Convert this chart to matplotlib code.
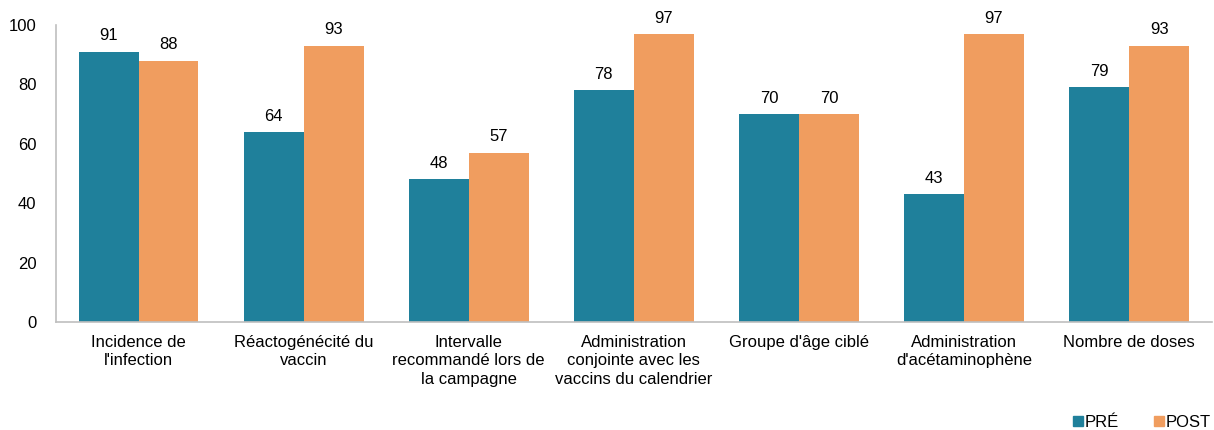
import numpy as np
import matplotlib.pyplot as plt
from matplotlib.patches import Patch

plt.rcParams['font.family'] = ['Liberation Sans', 'DejaVu Sans']

categories = ["Incidence de\nl'infection", "Réactogénécité du\nvaccin",
              "Intervalle\nrecommandé lors de\nla campagne",
              "Administration\nconjointe avec les\nvaccins du calendrier",
              "Groupe d'âge ciblé", "Administration\nd'acétaminophène",
              "Nombre de doses"]
pre = [91, 64, 48, 78, 70, 43, 79]
post = [88, 93, 57, 97, 70, 97, 93]

c_pre = '#1F809B'
c_post = '#F09D5F'
fs = 12

fig = plt.figure(figsize=(12.14, 4.3), dpi=100)
ax = fig.add_axes([0.0461, 0.251, 0.952, 0.691])

x = np.arange(len(categories))
w = 0.363
b1 = ax.bar(x - w / 2, pre, w, color=c_pre)
b2 = ax.bar(x + w / 2, post, w, color=c_post)

for bars in (b1, b2):
    for r in bars:
        ax.text(r.get_x() + r.get_width() / 2, r.get_height() + 2.8,
                f"{int(r.get_height())}", ha='center', va='bottom', fontsize=fs)

ax.set_xlim(-0.5, len(categories) - 0.5)
ax.set_ylim(0, 100)
ax.set_yticks(range(0, 101, 20))
ax.set_xticks(x)
ax.set_xticklabels(categories, fontsize=fs, linespacing=1.3)
ax.tick_params(axis='both', length=0, labelsize=fs)
ax.tick_params(axis='x', pad=9)
ax.tick_params(axis='y', pad=14)
for s in ('top', 'right'):
    ax.spines[s].set_visible(False)
for s in ('left', 'bottom'):
    ax.spines[s].set_color('#BFBFBF')
    ax.spines[s].set_linewidth(1.2)

handles = [Patch(color=c_pre, label='PRÉ'), Patch(color=c_post, label='POST')]
fig.legend(handles=handles, loc='lower right', bbox_to_anchor=(1.01, -0.035), ncol=2,
           frameon=False, fontsize=fs, handlelength=0.6, handleheight=0.6,
           handletextpad=0.1, columnspacing=2.1)

fig.savefig('out.png', dpi=100)
